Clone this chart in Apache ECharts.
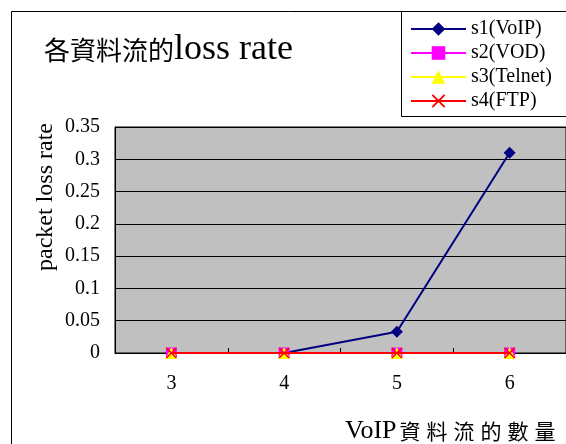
<!DOCTYPE html>
<html>
<head>
<meta charset="utf-8">
<script src="https://cdn.jsdelivr.net/npm/echarts@6/dist/echarts.min.js"></script>
<style>
    html, body { margin: 0; padding: 0; background: #fff; }
    #chart { width: 566px; height: 444px; }
</style>
</head>
<body>
<div id="chart"></div>
<script>
    // 資料
    const categories = ['3', '4', '5', '6']
    const seriesNames = ['s1(VoIP)', 's2(VOD)', 's3(Telnet)', 's4(FTP)']
    const s1 = [0, 0, 0.033, 0.31]
    const s2 = [0, 0, 0, 0]
    const s3 = [0, 0, 0, 0]
    const s4 = [0, 0, 0, 0]

    const serif = "'Liberation Serif', 'Noto Sans CJK TC', serif"
    const cjk = "'Noto Sans CJK TC', 'Liberation Serif', serif"
    const crossPath = 'path://M1,0L5,4L9,0L10,1L6,5L10,9L9,10L5,6L1,10L0,9L4,5L0,1Z'

    const colors = ['#000080', '#ff00ff', '#ffff00', '#ff0000']
    const symbols = ['diamond', 'rect', 'triangle', crossPath]
    const sizes = [12, 11, 12, 11]
    const values = [s1, s2, s3, s4]

    // x軸名稱的中文字一個一個分開，留出字距
    const xName = '{l|VoIP}' + '資料流的數量'.split('').map(ch => '{c|' + ch + '}').join('')

    let chart = echarts.init(document.getElementById('chart'))
    chart.setOption({
        animation: false,
        title: [{
            text: '{c|各資料流的}{l|loss rate}',
            left: 39,
            top: 27,
            textStyle: {
                fontWeight: 'normal',
                rich: {
                    c: { fontFamily: cjk, fontSize: 26, fontWeight: 'normal', color: '#000' },
                    l: { fontFamily: serif, fontSize: 36, fontWeight: 'normal', color: '#000' }
                }
            }
        }, {
            text: xName,
            left: 340,
            top: 413,
            textStyle: {
                fontWeight: 'normal',
                rich: {
                    l: { fontFamily: serif, fontSize: 26, fontWeight: 'normal', color: '#000' },
                    c: { fontFamily: cjk, fontSize: 21, fontWeight: 'normal', color: '#000', padding: [0, 3, 0, 3] }
                }
            }
        }],
        graphic: [{
            type: 'rect',
            shape: { x: 11.5, y: 11.5, width: 700, height: 600 },
            style: { fill: 'none', stroke: '#000', lineWidth: 1 },
            z: -1
        }, {
            type: 'rect',
            shape: { x: 401.5, y: 11.5, width: 300, height: 105 },
            style: { fill: '#fff', stroke: '#000', lineWidth: 1 },
            z: 0
        }, {
            type: 'text',
            x: 46,
            y: 197,
            rotation: Math.PI / 2,
            style: {
                text: 'packet loss rate',
                fontFamily: serif,
                fontSize: 24,
                fill: '#000',
                align: 'center',
                verticalAlign: 'middle'
            }
        }],
        legend: {
            orient: 'vertical',
            left: 405,
            top: 14,
            itemWidth: 55,
            itemHeight: 17,
            itemGap: 4,
            data: seriesNames,
            textStyle: { fontFamily: serif, fontSize: 20, color: '#000' },
            z: 5
        },
        grid: {
            left: 115,
            top: 127,
            width: 453,
            bottom: 91,
            show: true,
            backgroundColor: '#c0c0c0',
            borderColor: '#000',
            borderWidth: 1
        },
        xAxis: {
            type: 'category',
            data: categories,
            axisLine: { lineStyle: { color: '#000', width: 1 } },
            axisTick: { show: true, inside: true, length: 5, lineStyle: { color: '#000' } },
            axisLabel: { fontFamily: serif, fontSize: 20, color: '#000', margin: 21 }
        },
        yAxis: {
            type: 'value',
            min: 0,
            max: 0.35,
            interval: 0.05,
            axisLine: { show: true, lineStyle: { color: '#000' } },
            axisTick: { show: false },
            axisLabel: { fontFamily: serif, fontSize: 20, color: '#000', margin: 15 },
            splitLine: { lineStyle: { color: '#000', width: 1 } }
        },
        series: seriesNames.map((name, i) => ({
            name: name,
            type: 'line',
            data: values[i],
            symbol: symbols[i],
            symbolSize: sizes[i],
            showAllSymbol: true,
            lineStyle: { color: colors[i], width: 2 },
            itemStyle: { color: colors[i], borderWidth: 0 },
            z: 2 + i
        }))
    })
</script>
</body>
</html>
